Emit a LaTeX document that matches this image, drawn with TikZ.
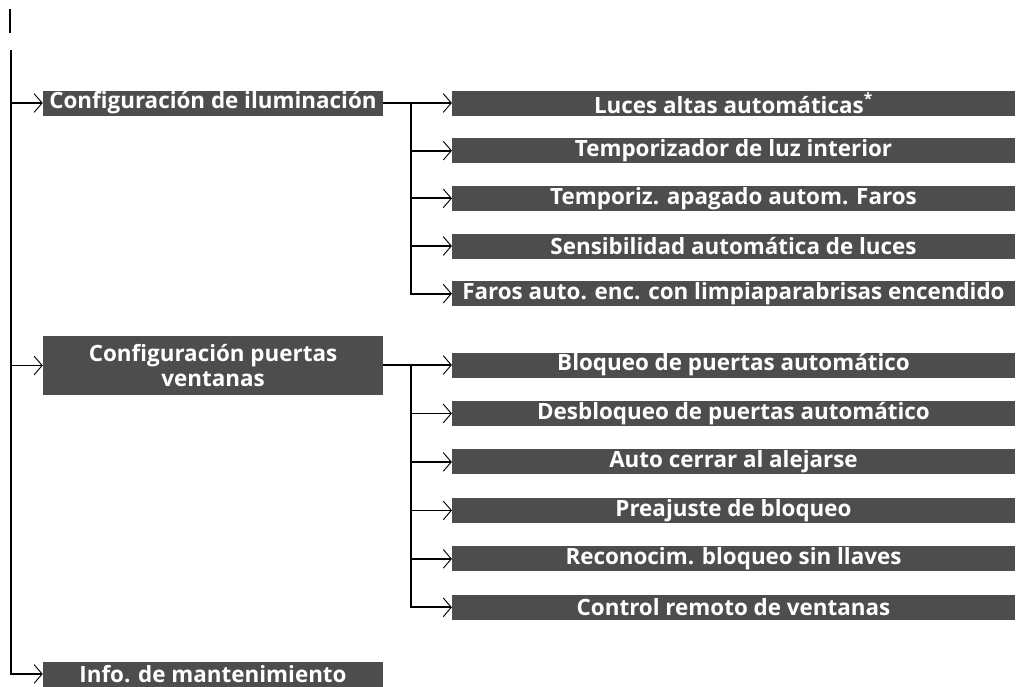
\documentclass[tikz,border=0pt]{standalone}
\usepackage{fontspec}
\setmainfont{Open Sans}
\usetikzlibrary{arrows.meta,positioning}
\definecolor{menugray}{HTML}{4D4D4D}

\begin{document}
\begin{tikzpicture}[
  x=0.75pt, y=-0.75pt,
  node distance=16.6pt and 0pt,
  every node/.style={fill=menugray, text=white, inner sep=0pt, align=center,
    font=\bfseries\fontsize{16.8}{18.8}\selectfont},
  leftbox/.style={minimum width=255pt, minimum height=18.75pt},
  rightbox/.style={minimum width=422pt, minimum height=18.75pt},
  link/.style={draw=black, line width=1.3pt},
  ptr/.style={link, -{Straight Barb[length=6pt,width=14pt,line width=0.7pt]}}
]
\useasboundingbox (0,0) rectangle (1016,686);

% cut-off stub at the top and the trunk
\coordinate (stubtop) at (10,9);
\coordinate (stubend) at (10,33);
\coordinate (trunk) at (11,50);

% first level
\node[leftbox] (ilum) at (213,103) {Configuración de iluminación};
\node[leftbox, minimum height=44.25pt] (puertas) at (213,365.5) {Configuración puertas\\ventanas};
\node[leftbox] (info) at (213,674) {Info. de mantenimiento};

% lighting settings
\node[rightbox] (altas) at (733.5,103) {Luces altas automáticas\textsuperscript{*}};
\node[rightbox, below=of altas] (luzint) {Temporizador de luz interior};
\node[rightbox, below=of luzint] (apagado) {Temporiz. apagado autom. Faros};
\node[rightbox, below=of apagado] (sensib) {Sensibilidad automática de luces};
\node[rightbox, below=of sensib] (faros) {Faros auto. enc. con limpiaparabrisas encendido};

% door and window settings
\node[rightbox] (bloqueo) at (733.5,365) {Bloqueo de puertas automático};
\node[rightbox, below=17.2pt of bloqueo] (desbloq) {Desbloqueo de puertas automático};
\node[rightbox, below=17.2pt of desbloq] (cerrar) {Auto cerrar al alejarse};
\node[rightbox, below=17.2pt of cerrar] (preaj) {Preajuste de bloqueo};
\node[rightbox, below=17.2pt of preaj] (reconoc) {Reconocim. bloqueo sin llaves};
\node[rightbox, below=17.2pt of reconoc] (remoto) {Control remoto de ventanas};

\coordinate (fork1) at (411,103);
\coordinate (fork2) at (411,365);

\draw[link] (stubtop) -- (stubend);
\draw[ptr] (trunk) |- (info.west);
\draw[ptr] (trunk |- ilum.west) -- (ilum.west);
\draw[ptr] (trunk |- puertas.west) -- (puertas.west);

\draw[ptr] (ilum.east) -- (altas.west);
\draw[ptr] (fork1) |- (faros.west);
\draw[ptr] (fork1 |- luzint.west) -- (luzint.west);
\draw[ptr] (fork1 |- apagado.west) -- (apagado.west);
\draw[ptr] (fork1 |- sensib.west) -- (sensib.west);

\draw[ptr] (puertas.east |- fork2) -- (bloqueo.west);
\draw[ptr] (fork2) |- (remoto.west);
\draw[ptr] (fork2 |- desbloq.west) -- (desbloq.west);
\draw[ptr] (fork2 |- cerrar.west) -- (cerrar.west);
\draw[ptr] (fork2 |- preaj.west) -- (preaj.west);
\draw[ptr] (fork2 |- reconoc.west) -- (reconoc.west);
\end{tikzpicture}
\end{document}
